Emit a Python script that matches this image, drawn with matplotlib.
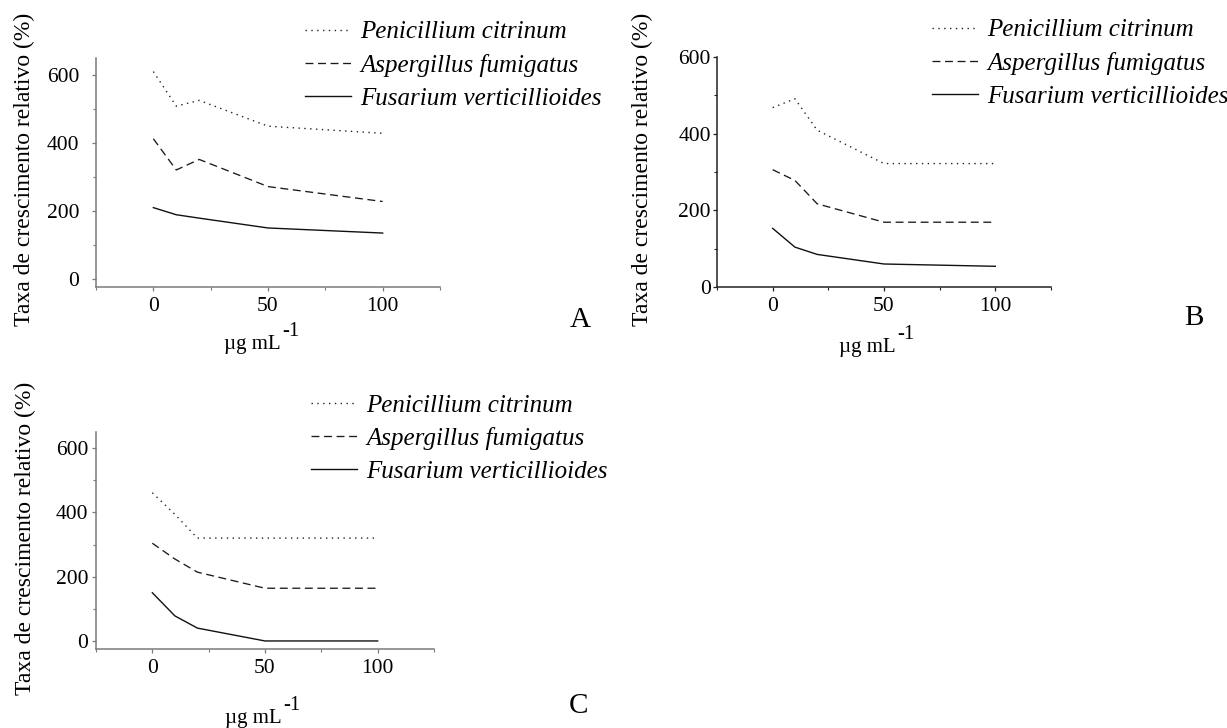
import matplotlib
matplotlib.use("Agg")
import matplotlib.pyplot as plt
from matplotlib.ticker import MultipleLocator

plt.rcParams['font.family'] = ['Liberation Serif', 'DejaVu Serif']

# concentrations (ug/mL)
conc = [0, 10, 20, 50, 100]

# relative growth (%)
A_pen = [610, 508, 525, 449, 428]
A_asp = [412, 320, 351, 271, 227]
A_fus = [209, 188, 178, 149, 134]

B_pen = [468, 491, 409, 322, 322]
B_asp = [306, 278, 217, 169, 169]
B_fus = [153, 104, 85, 60, 54]

C_pen = [461, 394, 320, 320, 320]
C_asp = [304, 255, 214, 164, 164]
C_fus = [150, 78, 40, 0, 0]

species = ['Penicillium citrinum', 'Aspergillus fumigatus', 'Fusarium verticillioides']
panel_letters = ['A', 'B', 'C']
x_ticks = [0, 50, 100]
y_ticks = [0, 200, 400, 600]

W, H = 1227, 728
fig = plt.figure(figsize=(W / 100, H / 100), dpi=100)


def px_axes(left, top, right, bottom):
    return fig.add_axes([left / W, 1 - bottom / H, (right - left) / W, (bottom - top) / H])


styles = [dict(ls=(0, (1, 3.2)), lw=1.0, color='#222222'),
          dict(ls=(0, (6, 3.5)), lw=0.95, color='#1a1a1a'),
          dict(ls='-', lw=1.0, color='#111111')]

panels = [
    # data, axes box (px), ylim, spine colour, y tick pad, legend anchor (px), ylabel pos, xlabel pos, letter pos
    ([A_pen, A_asp, A_fus], (96, 58, 440, 287), (-25, 650), '#7a7a7a', 9.0, (305, 21), (24, 169), (252, 349), (580, 320)),
    ([B_pen, B_asp, B_fus], (717, 57, 1051, 287), (0, 600), '#222222', 1.5, (932, 19), (642, 169), (867, 352), (1194, 318)),
    ([C_pen, C_asp, C_fus], (96, 432, 434, 649), (-25, 650), '#7a7a7a', 2.5, (311, 394), (25, 538), (253, 723), (578, 706)),
]

for i, (series, box, ylim, sc, ypad, leg, ylab, xlab, let) in enumerate(panels):
    ax = px_axes(*box)
    handles = []
    for vals, st, name in zip(series, styles, species):
        h, = ax.plot(conc, vals, label=name, **st)
        handles.append(h)
    ax.set_xlim(-25, 125)
    ax.set_ylim(*ylim)
    ax.set_xticks(x_ticks)
    ax.set_yticks(y_ticks)
    ax.xaxis.set_minor_locator(MultipleLocator(25))
    ax.yaxis.set_minor_locator(MultipleLocator(100))
    for s in ['top', 'right']:
        ax.spines[s].set_visible(False)
    for s in ['left', 'bottom']:
        ax.spines[s].set_color(sc)
        ax.spines[s].set_linewidth(1.1)
    ax.tick_params(which='major', direction='out', length=3, width=0.9, color=sc, labelsize=15.5)
    ax.tick_params(axis='x', which='major', pad=4)
    ax.tick_params(axis='y', which='major', pad=ypad)
    ax.tick_params(which='minor', direction='out', length=2.2, width=0.8, color=sc)
    ax.patch.set_alpha(0)

    fig.legend(handles=handles, loc='upper left',
               bbox_to_anchor=(leg[0] / W, 1 - leg[1] / H),
               frameon=False, prop={'style': 'italic', 'size': 18},
               handlelength=1.85, handletextpad=0.35, labelspacing=0.42,
               borderpad=0, borderaxespad=0)

    fig.text(ylab[0] / W, 1 - ylab[1] / H, 'Taxa de crescimento relativo (%)',
             rotation=90, ha='center', va='center', fontsize=17)

    # x label with a raised "-1" placed right after the text
    t = fig.text(xlab[0] / W, 1 - xlab[1] / H, 'µg mL', ha='center', va='baseline', fontsize=15)
    ax.annotate('-1', xy=(1, 1), xycoords=t, xytext=(1.5, -0.5), textcoords='offset points',
                ha='left', va='baseline', fontsize=15, annotation_clip=False)

    fig.text(let[0] / W, 1 - let[1] / H, panel_letters[i], ha='center', va='center', fontsize=21)

fig.savefig('out.png', dpi=100)
